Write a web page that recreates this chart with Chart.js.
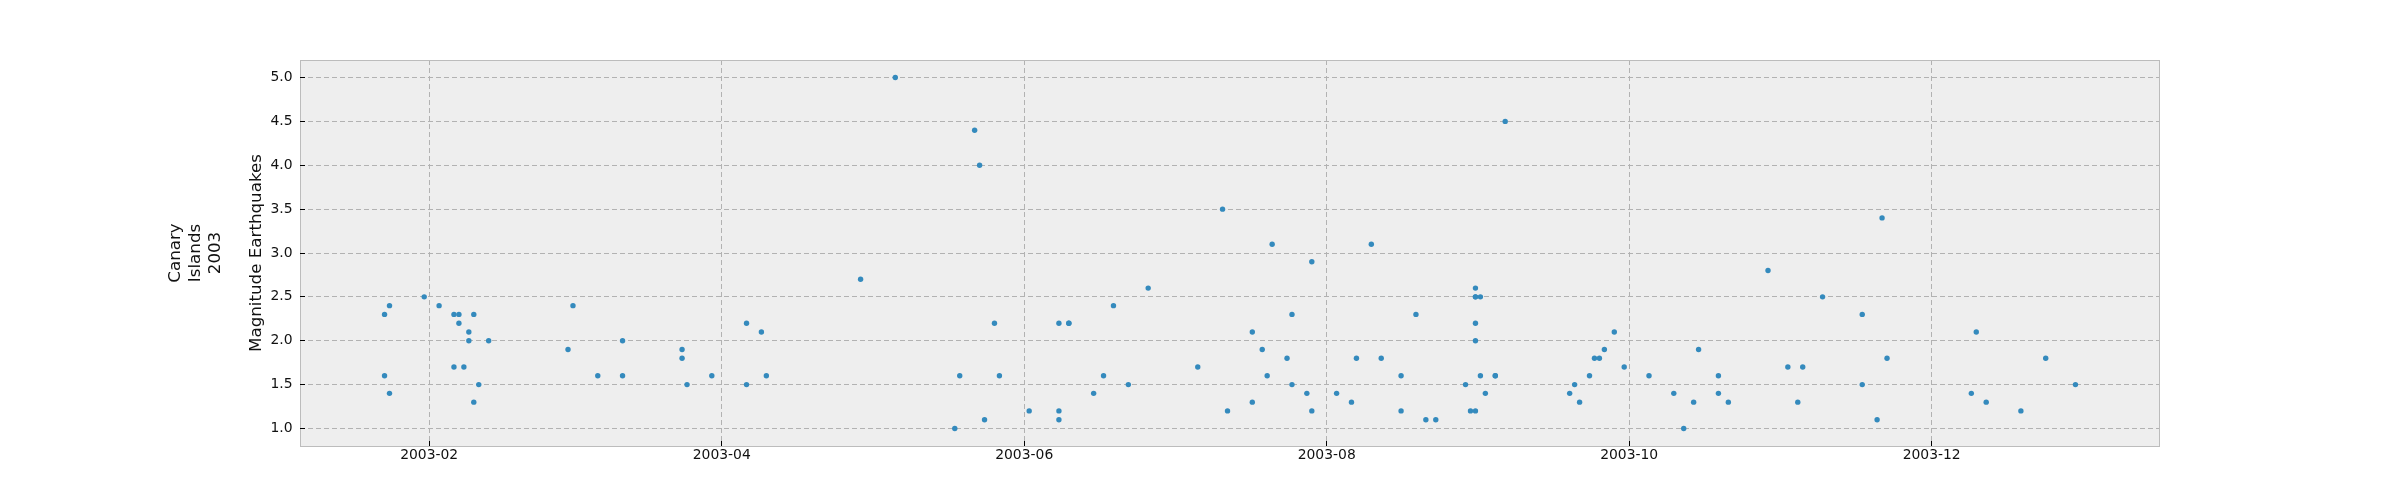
<!DOCTYPE html>
<html>
<head>
<meta charset="utf-8">
<script src="https://cdn.jsdelivr.net/npm/chart.js@4.4.1/dist/chart.umd.min.js"></script>
<style>
html, body { margin: 0; padding: 0; background: #ffffff; }
</style>
</head>
<body>
<canvas id="quake-chart" width="2400" height="500"></canvas>
<script>
"use strict";

// Earthquakes, Canary Islands 2003 (date, magnitude)
var eventDates = [
    "2003-01-23", "2003-01-23", "2003-01-24", "2003-01-24", "2003-01-31",
    "2003-02-03", "2003-02-06", "2003-02-06", "2003-02-07", "2003-02-07",
    "2003-02-08", "2003-02-09", "2003-02-09", "2003-02-10", "2003-02-10",
    "2003-02-11", "2003-02-13", "2003-03-01", "2003-03-02", "2003-03-07",
    "2003-03-12", "2003-03-12", "2003-03-24", "2003-03-24", "2003-03-25",
    "2003-03-30", "2003-04-06", "2003-04-06", "2003-04-09", "2003-04-10",
    "2003-04-29", "2003-05-06", "2003-05-18", "2003-05-19", "2003-05-22",
    "2003-05-23", "2003-05-24", "2003-05-26", "2003-05-27", "2003-06-02",
    "2003-06-08", "2003-06-08", "2003-06-08", "2003-06-10", "2003-06-10",
    "2003-06-15", "2003-06-17", "2003-06-19", "2003-06-22", "2003-06-26",
    "2003-07-06", "2003-07-11", "2003-07-12", "2003-07-17", "2003-07-17",
    "2003-07-19", "2003-07-20", "2003-07-21", "2003-07-24", "2003-07-25",
    "2003-07-25", "2003-07-28", "2003-07-29", "2003-07-29", "2003-08-03",
    "2003-08-06", "2003-08-07", "2003-08-10", "2003-08-12", "2003-08-16",
    "2003-08-16", "2003-08-19", "2003-08-21", "2003-08-23", "2003-08-29",
    "2003-08-30", "2003-08-31", "2003-08-31", "2003-08-31", "2003-08-31",
    "2003-08-31", "2003-08-31", "2003-09-01", "2003-09-01", "2003-09-02",
    "2003-09-04", "2003-09-04", "2003-09-06", "2003-09-19", "2003-09-20",
    "2003-09-21", "2003-09-23", "2003-09-24", "2003-09-25", "2003-09-26",
    "2003-09-28", "2003-09-30", "2003-10-05", "2003-10-10", "2003-10-12",
    "2003-10-14", "2003-10-15", "2003-10-19", "2003-10-19", "2003-10-21",
    "2003-10-29", "2003-11-02", "2003-11-04", "2003-11-05", "2003-11-09",
    "2003-11-17", "2003-11-17", "2003-11-20", "2003-11-21", "2003-11-22",
    "2003-12-09", "2003-12-10", "2003-12-12", "2003-12-19", "2003-12-24",
    "2003-12-30"
];
var magnitudes = [
    2.3, 1.6, 2.4, 1.4, 2.5,
    2.4, 2.3, 1.7, 2.3, 2.2,
    1.7, 2.1, 2.0, 2.3, 1.3,
    1.5, 2.0, 1.9, 2.4, 1.6,
    2.0, 1.6, 1.9, 1.8, 1.5,
    1.6, 2.2, 1.5, 2.1, 1.6,
    2.7, 5.0, 1.0, 1.6, 4.4,
    4.0, 1.1, 2.2, 1.6, 1.2,
    1.2, 1.1, 2.2, 2.2, 2.2,
    1.4, 1.6, 2.4, 1.5, 2.6,
    1.7, 3.5, 1.2, 2.1, 1.3,
    1.9, 1.6, 3.1, 1.8, 2.3,
    1.5, 1.4, 2.9, 1.2, 1.4,
    1.3, 1.8, 3.1, 1.8, 1.6,
    1.2, 2.3, 1.1, 1.1, 1.5,
    1.2, 1.2, 2.6, 2.5, 2.5,
    2.2, 2.0, 2.5, 1.6, 1.4,
    1.6, 1.6, 4.5, 1.4, 1.5,
    1.3, 1.6, 1.8, 1.8, 1.9,
    2.1, 1.7, 1.6, 1.4, 1.0,
    1.3, 1.9, 1.6, 1.4, 1.3,
    2.8, 1.7, 1.3, 1.7, 2.5,
    1.5, 2.3, 1.1, 3.4, 1.8,
    1.4, 2.1, 1.3, 1.2, 1.8,
    1.5
];

// Axis ticks and labels
var xTickLabels = ["2003-02", "2003-04", "2003-06", "2003-08", "2003-10", "2003-12"];
var yTickValues = [1.0, 1.5, 2.0, 2.5, 3.0, 3.5, 4.0, 4.5, 5.0];
var yAxisLabel = "Magnitude Earthquakes";
var sideLabel = ["Canary", "Islands", "2003"];

var FONT = "'DejaVu Sans', 'Liberation Sans', sans-serif";
var TEXT_COLOR = "#111111";

// days since 2003-01-01 ("2003-02" means the first of the month)
function dayOfYear(s) {
    var p = s.split("-");
    return (Date.UTC(+p[0], +p[1] - 1, p[2] ? +p[2] : 1) - Date.UTC(2003, 0, 1)) / 86400000;
}

var days = eventDates.map(dayOfYear);
var points = days.map(function (d, i) { return { x: d, y: magnitudes[i] }; });

// 5% margins like matplotlib
var xLo = Math.min.apply(null, days), xHi = Math.max.apply(null, days);
var xPad = (xHi - xLo) * 0.05;
var yLo = Math.min.apply(null, magnitudes), yHi = Math.max.apply(null, magnitudes);
var yPad = (yHi - yLo) * 0.05;

// Axes background, frame, inward tick marks and the side label
var axesFrame = {
    id: "axesFrame",
    beforeDraw: function (chart) {
        var a = chart.chartArea, ctx = chart.ctx;
        ctx.save();
        ctx.fillStyle = "#eeeeee";
        ctx.fillRect(a.left, a.top, a.right - a.left, a.bottom - a.top);
        ctx.restore();
    },
    afterDatasetsDraw: function (chart) {
        var a = chart.chartArea, ctx = chart.ctx;
        ctx.save();
        ctx.strokeStyle = "#bcbcbc";
        ctx.lineWidth = 1;
        ctx.strokeRect(a.left + 0.5, a.top + 0.5, a.right - a.left - 1, a.bottom - a.top);

        ctx.strokeStyle = "#000000";
        ctx.beginPath();
        chart.scales.x.ticks.forEach(function (t) {
            var px = Math.floor(chart.scales.x.getPixelForValue(t.value)) + 0.5;
            ctx.moveTo(px, a.bottom);
            ctx.lineTo(px, a.bottom - 5);
        });
        chart.scales.y.ticks.forEach(function (t) {
            var py = Math.floor(chart.scales.y.getPixelForValue(t.value)) + 0.5;
            ctx.moveTo(a.left, py);
            ctx.lineTo(a.left + 5, py);
        });
        ctx.stroke();

        // "Canary / Islands / 2003", rotated, lines stacked left to right
        ctx.fillStyle = TEXT_COLOR;
        ctx.font = "16.7px " + FONT;
        ctx.textAlign = "center";
        ctx.textBaseline = "middle";
        var cy = (a.top + a.bottom) / 2;
        sideLabel.forEach(function (line, i) {
            ctx.save();
            ctx.translate(176 + i * 20, cy);
            ctx.rotate(-Math.PI / 2);
            ctx.fillText(line, 0, 0);
            ctx.restore();
        });
        ctx.restore();
    }
};

var gridOpts = { color: "#b2b2b2", lineWidth: 1, drawTicks: false };
var borderOpts = { display: false, dash: [5, 3] };

new Chart(document.getElementById("quake-chart"), {
    type: "scatter",
    data: {
        datasets: [{
            data: points,
            backgroundColor: "#348ABD",
            borderWidth: 0,
            pointRadius: 2.7,
            pointHoverRadius: 2.7
        }]
    },
    options: {
        responsive: false,
        animation: false,
        events: [],
        layout: { padding: { left: 230, top: 60, right: 240, bottom: 0 } },
        plugins: {
            legend: { display: false },
            tooltip: { enabled: false }
        },
        scales: {
            x: {
                type: "linear",
                min: xLo - xPad,
                max: xHi + xPad,
                afterBuildTicks: function (scale) {
                    scale.ticks = xTickLabels.map(function (l) { return { value: dayOfYear(l) }; });
                },
                afterFit: function (scale) { scale.height = 54; },
                ticks: {
                    autoSkip: false,
                    maxRotation: 0,
                    padding: 1,
                    color: TEXT_COLOR,
                    font: { family: FONT, size: 13.9 },
                    callback: function (v, i) { return xTickLabels[i]; }
                },
                grid: gridOpts,
                border: borderOpts
            },
            y: {
                min: yLo - yPad,
                max: yHi + yPad,
                afterBuildTicks: function (scale) {
                    scale.ticks = yTickValues.map(function (v) { return { value: v }; });
                },
                afterFit: function (scale) { scale.width = 70; },
                ticks: {
                    padding: 7.5,
                    color: TEXT_COLOR,
                    font: { family: FONT, size: 13.9 },
                    callback: function (v) { return v.toFixed(1); }
                },
                title: {
                    display: true,
                    text: yAxisLabel,
                    color: TEXT_COLOR,
                    font: { family: FONT, size: 16.7 },
                    padding: { top: 17, bottom: 0 }
                },
                grid: gridOpts,
                border: borderOpts
            }
        }
    },
    plugins: [axesFrame]
});
</script>
</body>
</html>
